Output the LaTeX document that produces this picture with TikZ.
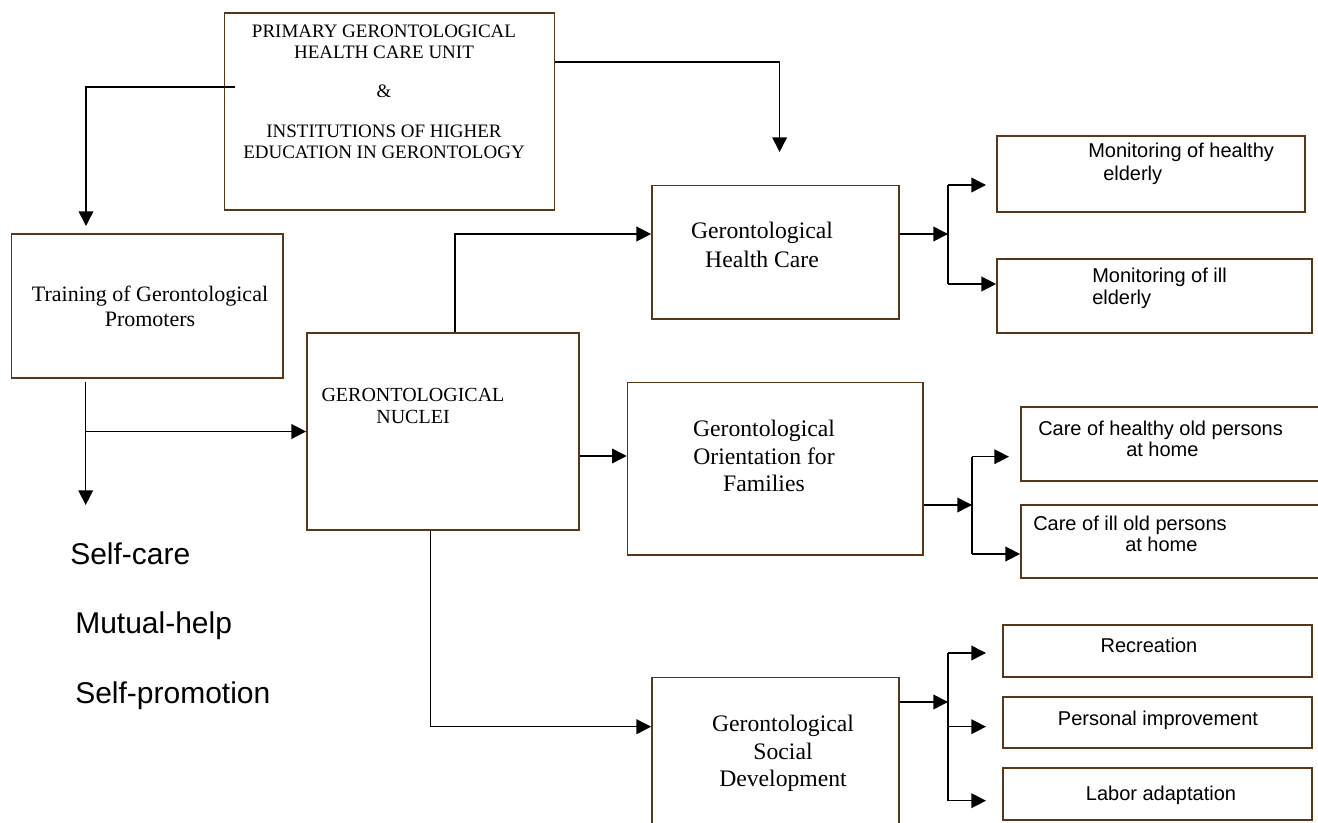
\documentclass[tikz,border=0pt]{standalone}
\usepackage{fontspec}
\setmainfont{Liberation Serif}
\setsansfont{Liberation Sans}
\usetikzlibrary{arrows.meta,fit}
\definecolor{boxbrown}{RGB}{88,56,24}
\newcommand\clines[1]{\vtop{\halign{\hfil##\hfil\cr#1\crcr}}}
\newcommand\llines[1]{\vtop{\halign{##\hfil\cr#1\crcr}}}
\tikzset{
  box/.style={draw=boxbrown, line width=1.3pt, inner sep=0pt},
  conn/.style={draw=black, line width=1.1pt},
  arr/.style={conn, -{Triangle[length=11pt,width=11pt]}},
  txt/.style={inner sep=0pt, anchor=base},
  ltxt/.style={inner sep=0pt, anchor=base west},
  side/.style={ltxt, font=\sffamily\fontsize{22.5pt}{27pt}\selectfont},
  smalll/.style={ltxt, font=\sffamily\fontsize{15pt}{16.5pt}\selectfont},
  smallc/.style={txt, font=\sffamily\fontsize{15pt}{16.5pt}\selectfont},
}
\begin{document}
\begin{tikzpicture}[x=0.75pt,y=-0.75pt]
\fill[white] (0,0) rectangle (1318,823);
\useasboundingbox (0,0) rectangle (1318,823);

% boxes
\node[box, fit={(224.5,12.7) (554.6,210)}] (top) {};
\node[box, fit={(11.4,234) (283,377.7)}] (train) {};
\node[box, fit={(307,333) (579,530)}] (nuc) {};
\node[box, fit={(652,185.5) (899,319)}] (health) {};
\node[box, fit={(997,136) (1305,211.7)}] (monH) {};
\node[box, fit={(997,259) (1312,333)}] (monI) {};
\node[box, fit={(627.6,382.5) (923,555)}] (orient) {};
\node[box, fit={(1021,406.7) (1335,480.7)}] (careH) {};
\node[box, fit={(1021,505) (1335,578.3)}] (careI) {};
\node[box, fit={(652,677.5) (899,840)}] (social) {};
\node[box, fit={(1003,625) (1312,676.7)}] (rec) {};
\node[box, fit={(1003,696.7) (1312,748.3)}] (pers) {};
\node[box, fit={(1003,768) (1312,820)}] (labor) {};

% texts
\node[txt, font=\fontsize{14.25pt}{15.75pt}\selectfont] (topT) at (384,37.7)
  {\clines{PRIMARY GERONTOLOGICAL\cr HEALTH CARE UNIT\cr\noalign{\vskip 13.5pt}\&\cr\noalign{\vskip 14pt}INSTITUTIONS OF HIGHER\cr EDUCATION IN GERONTOLOGY}};
\node[txt, font=\fontsize{16.5pt}{18.75pt}\selectfont] (trainT) at (150,301.7)
  {\clines{Training of Gerontological\cr Promoters}};
\node[txt, font=\fontsize{15pt}{16.5pt}\selectfont] (nucT) at (413,402)
  {\clines{GERONTOLOGICAL\cr NUCLEI}};
\node[txt, font=\fontsize{17.75pt}{21.75pt}\selectfont] (healthT) at (762,238.3)
  {\clines{Gerontological\cr Health Care}};
\node[txt, font=\fontsize{17.75pt}{20.6pt}\selectfont] (orientT) at (764,436.7)
  {\clines{Gerontological\cr Orientation for\cr Families}};
\node[txt, font=\fontsize{17.75pt}{20.7pt}\selectfont] (socialT) at (783,731.7)
  {\clines{Gerontological\cr Social\cr Development}};
\node[smalll, font=\sffamily\fontsize{15pt}{17.25pt}\selectfont] (monHT) at (1088,158)
  {\llines{Monitoring of healthy\cr\hskip 11.25pt elderly}};
\node[smalll] (monIT) at (1092,283)
  {\llines{Monitoring of ill\cr elderly}};
\node[smalll, font=\sffamily\fontsize{15pt}{15.2pt}\selectfont] (careHT) at (1038,436)
  {\llines{Care of healthy old persons\cr\hskip 66pt at home}};
\node[smalll, font=\sffamily\fontsize{15pt}{15.5pt}\selectfont] (careIT) at (1033,531)
  {\llines{Care of ill old persons\cr\hskip 69pt at home}};
\node[smallc] (recT) at (1149,652.7) {Recreation};
\node[smallc] (persT) at (1158,725.7) {Personal improvement};
\node[smallc] (laborT) at (1161,800) {Labor adaptation};
\node[side] (s1) at (70,564) {Self-care};
\node[side] (s2) at (75,633) {Mutual-help};
\node[side] (s3) at (75,703) {Self-promotion};

% free ends and branch points
\coordinate (topL) at (235,87);
\coordinate (trainIn) at (86,226);
\coordinate (healthIn) at (779.6,152);
\coordinate (trainOut) at (85.7,382);
\coordinate (trainBr) at (85.7,431.5);
\coordinate (selfIn) at (85.7,505);
\coordinate (hv) at (948,234);
\coordinate (hvT) at (948,185);
\coordinate (hvB) at (948,284);
\coordinate (ov) at (972,505);
\coordinate (ovT) at (972,456.7);
\coordinate (ovB) at (972,554);
\coordinate (sv) at (948,702);
\coordinate (svT) at (948,653);
\coordinate (svM) at (948,726.7);
\coordinate (svB) at (948,800.7);

% connectors
\draw[arr] (topL) -| (trainIn);
\draw[arr] (top.east |- 0,62) -| (healthIn);
\draw[arr] (trainOut) -- (selfIn);
\draw[arr] (trainBr) -- (nuc.west |- trainBr);
\draw[arr] (nuc.north -| 455,0) |- (health.west |- 0,234);
\draw[arr] (nuc.east |- 0,456) -- (orient.west |- 0,456);
\draw[arr] (nuc.south -| 430.6,0) |- (social.west |- 0,726.7);

\draw[arr] (health.east |- hv) -- (hv);
\draw[conn] (hvT) -- (hvB);
\draw[arr] (hvT) -- ++(38,0);
\draw[arr] (hvB) -- (monI.west |- hvB);

\draw[arr] (orient.east |- ov) -- (ov);
\draw[conn] (ovT) -- (ovB);
\draw[arr] (ovT) -- ++(37,0);
\draw[arr] (ovB) -- (careI.west |- ovB);

\draw[arr] (social.east |- sv) -- (sv);
\draw[conn] (svT) -- (svB);
\draw[arr] (svT) -- ++(38,0);
\draw[arr] (svM) -- ++(38,0);
\draw[arr] (svB) -- ++(38,0);
\end{tikzpicture}
\end{document}
